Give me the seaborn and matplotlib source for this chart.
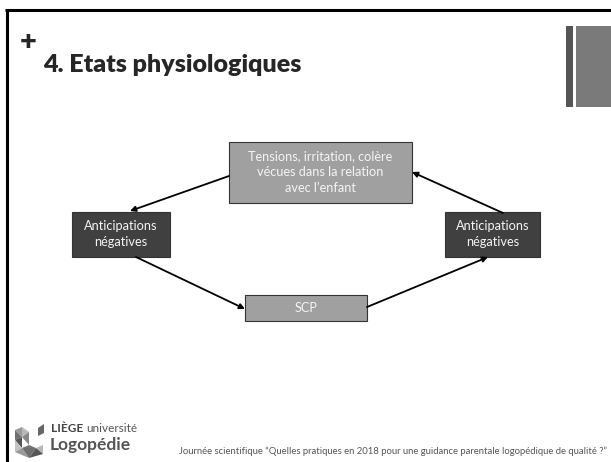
import numpy as np
import pandas as pd
import matplotlib
matplotlib.use("Agg")
import matplotlib.pyplot as plt
import seaborn as sns
from matplotlib.patches import Rectangle, Polygon

# slide texts
title = "4. Etats physiologiques"
box_labels = ["Tensions, irritation, colère\nvécues dans la relation\navec l\u2019enfant",
              "Anticipations\nnégatives",
              "SCP",
              "Anticipations\nnégatives"]
uni_label = "LIÈGE"
uni_label2 = "université"
dept_label = "Logopédie"
footer = "Journée scientifique \u201cQuelles pratiques en 2018 pour une guidance parentale logopédique de qualité ?\u201d"

sns.set_theme(style="white")
plt.rcParams["font.family"] = ["Lato", "DejaVu Sans"]

fig = plt.figure(figsize=(6.11, 4.62), dpi=100)
ax = fig.add_axes([0, 0, 1, 1])
ax.set_xlim(0, 611)
ax.set_ylim(462, 0)
ax.axis("off")

# slide frame
ax.plot([6.5, 6.5], [9, 462], color="black", lw=2.2, solid_capstyle="butt")
ax.plot([5, 611], [9.5, 9.5], color="black", lw=2.2, solid_capstyle="butt")

# right decoration
ax.add_patch(Rectangle((566, 26), 7, 81, color="#555555", lw=0))
ax.add_patch(Rectangle((576, 26), 35, 81, color="#7a7a7a", lw=0))

# title
ax.text(20, 42, "+", fontsize=21, fontweight="heavy", ha="left", va="center")
ax.text(43, 72, title, fontsize=18, fontweight="heavy", ha="left", va="baseline")

# boxes: (x, y, w, h, color)
boxes = [(229, 142, 183, 61, "#a0a0a0"),
         (72, 212, 98, 45, "#404040"),
         (245, 295, 122, 26, "#a0a0a0"),
         (445, 212, 95, 45, "#404040")]
for (x, y, w, h, c), lab in zip(boxes, box_labels):
    ax.add_patch(Rectangle((x, y), w, h, facecolor=c, edgecolor="#333333", lw=0.8))
    ax.text(x + w / 2, y + h / 2, lab, color="#f4f4f4", fontsize=9.2,
            ha="center", va="center", linespacing=1.4)

# arrows (start -> end)
arrows = [((229, 176), (130, 211)),
          ((136, 257), (245, 309)),
          ((367, 307), (488, 257)),
          ((503, 213), (412, 172))]
for s, e in arrows:
    ax.annotate("", xy=e, xytext=s,
                arrowprops=dict(arrowstyle="-|>", color="black", lw=1.3,
                                mutation_scale=8, shrinkA=0, shrinkB=0))

# logo
grays = ["#9a9a9a", "#6e6e6e", "#b8b8b8", "#555555", "#888888", "#c4c4c4", "#777777"]
tris = [[(15, 430), (22, 427), (22, 437)],
        [(15, 430), (22, 437), (15, 440)],
        [(22, 427), (29, 432), (22, 437)],
        [(15, 440), (22, 437), (22, 448)],
        [(22, 437), (29, 432), (29, 445)],
        [(15, 440), (22, 448), (15, 452)],
        [(22, 448), (29, 445), (36, 448)],
        [(15, 452), (22, 448), (29, 458)],
        [(22, 448), (36, 448), (29, 458)],
        [(36, 448), (43, 445), (43, 454)],
        [(29, 458), (36, 448), (43, 454)]]
for i, t in enumerate(tris):
    ax.add_patch(Polygon(t, closed=True, color=grays[i % len(grays)], lw=0))
ax.add_patch(Polygon([(38, 428), (44, 424), (44, 433), (38, 436)], closed=True,
                     color="#666666", lw=0))
ax.text(51, 429, uni_label, fontsize=8.5, fontweight="bold", color="#444444",
        ha="left", va="center")
ax.text(86, 429, uni_label2, fontsize=8.5, color="#555555", ha="left", va="center")
ax.text(50, 445, dept_label, fontsize=12.5, fontweight="bold", color="#555555",
        ha="left", va="center")

ax.text(607, 451, footer, fontsize=6.8, color="#555555", ha="right", va="center")

fig.savefig("out.png", dpi=100)
